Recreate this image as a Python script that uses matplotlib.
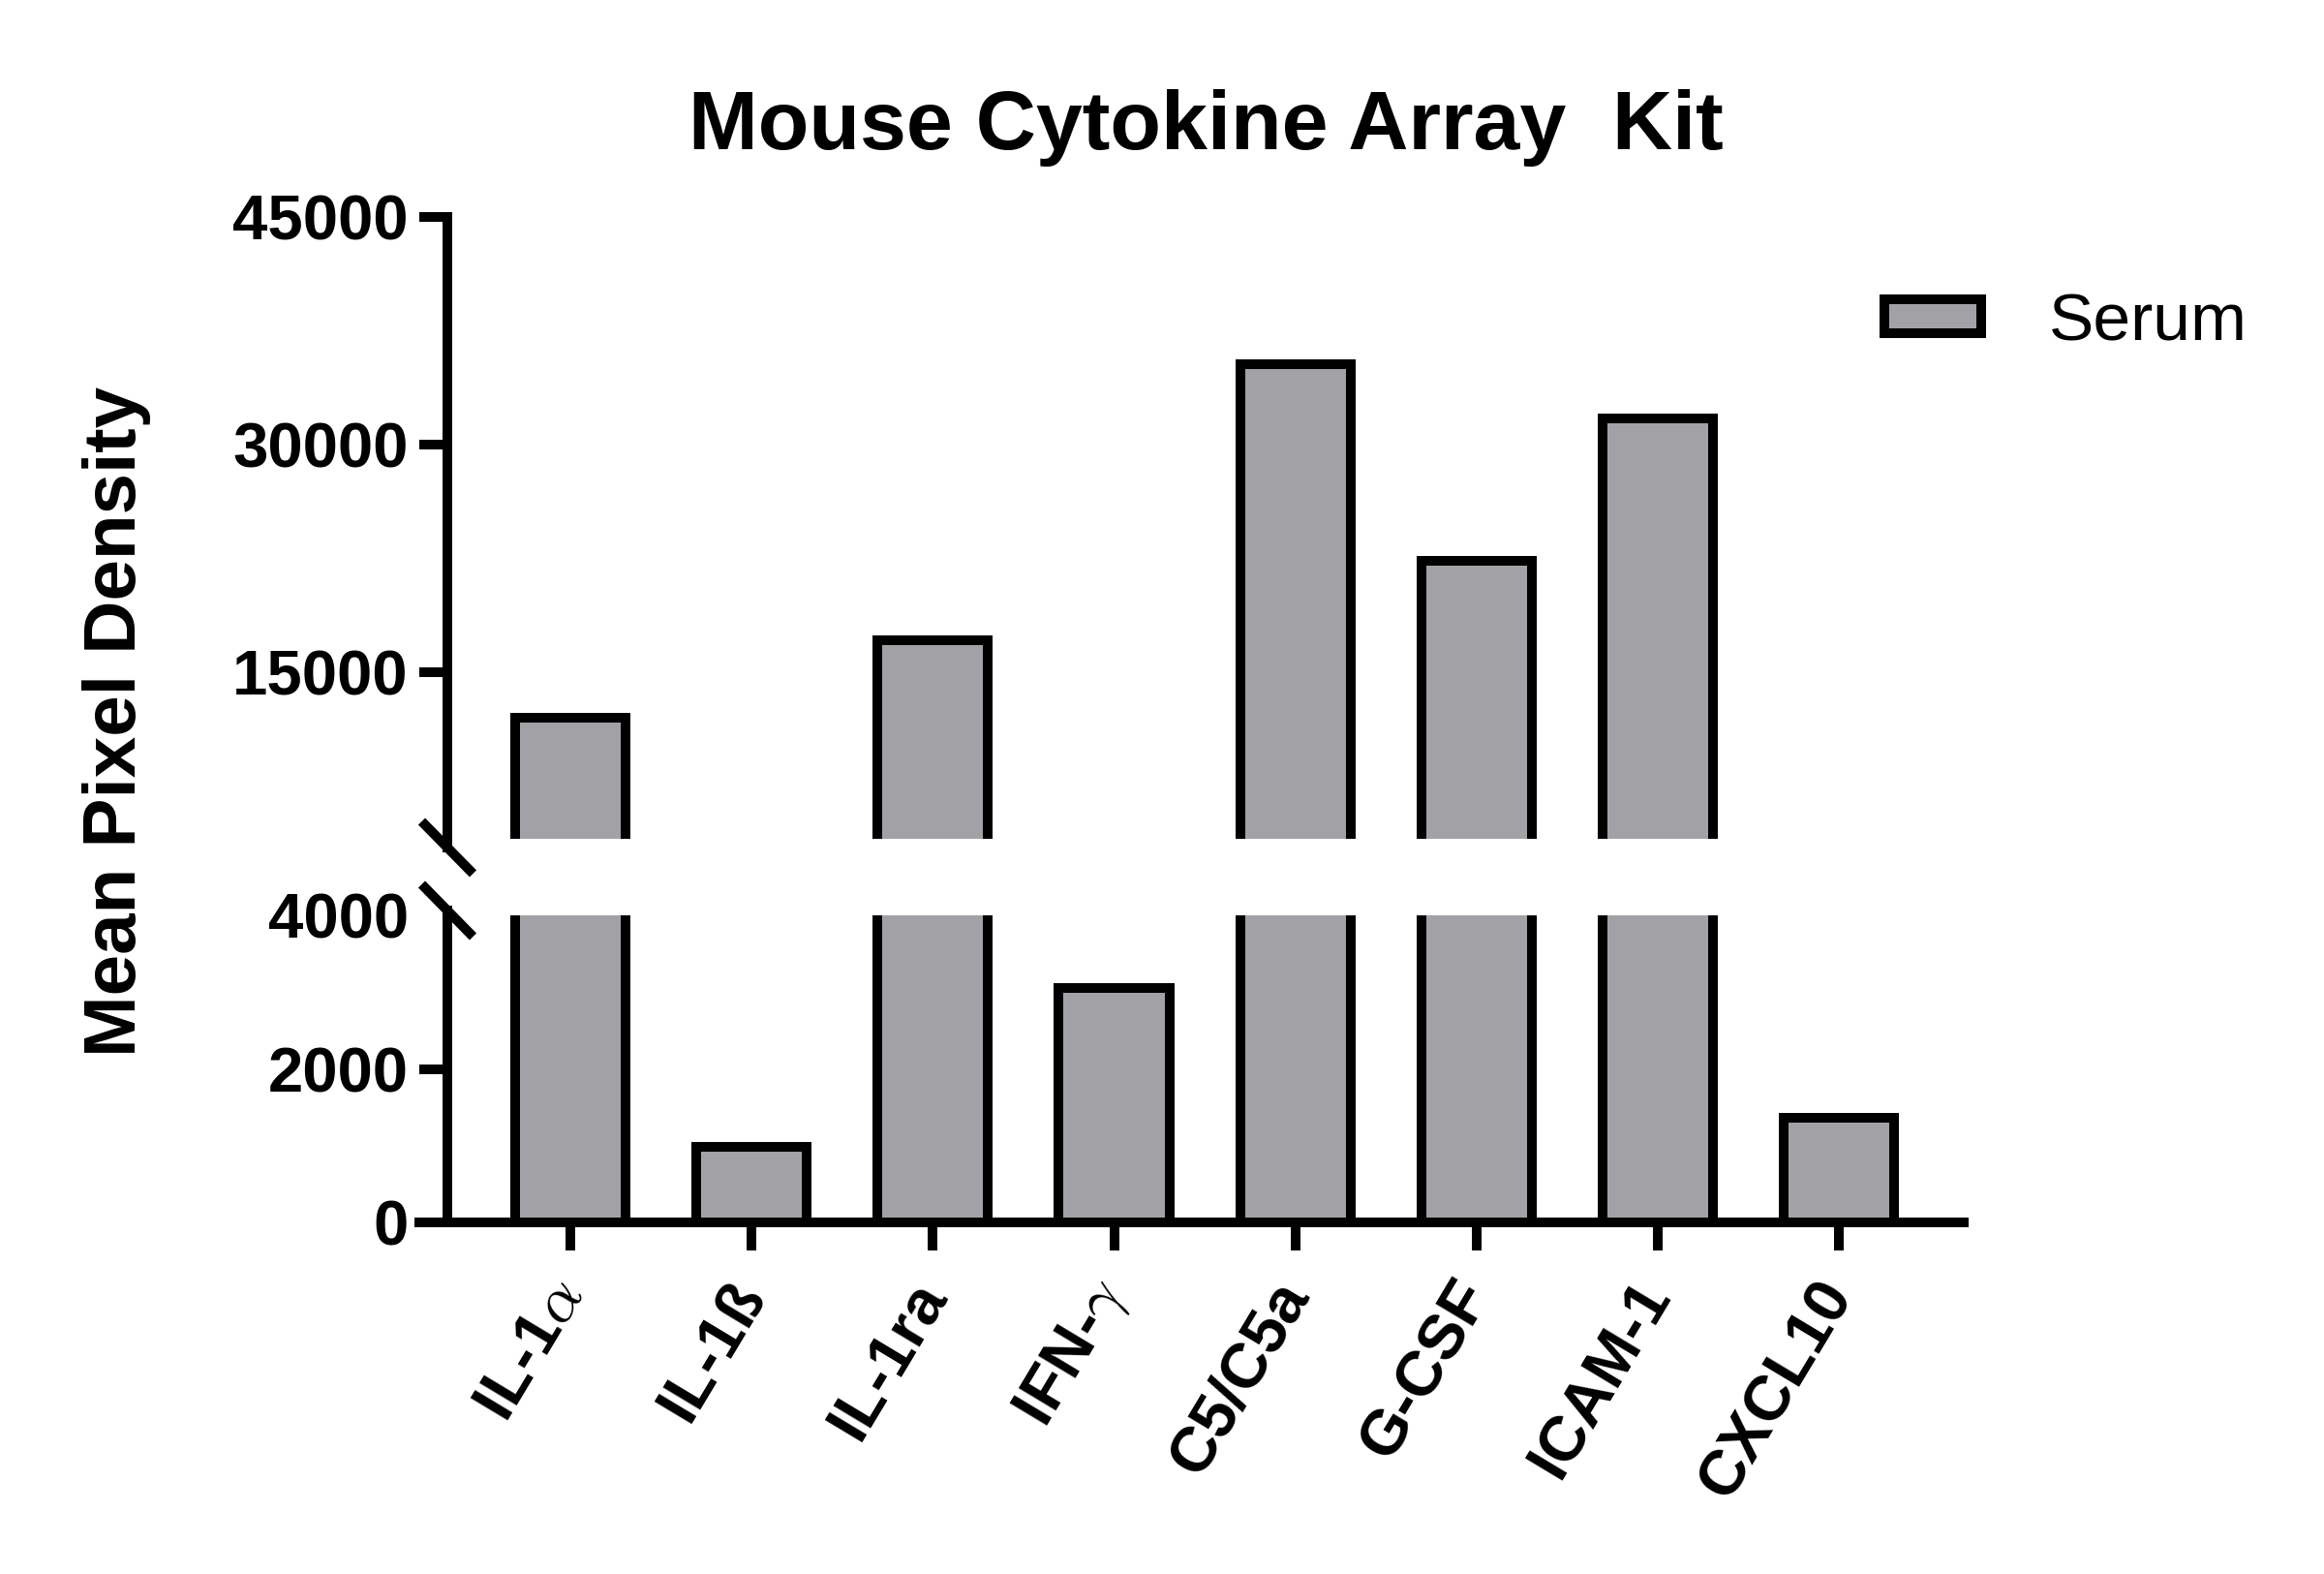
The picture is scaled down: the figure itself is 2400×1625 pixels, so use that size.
import matplotlib
matplotlib.use('Agg')
import matplotlib.pyplot as plt

plt.rcParams['font.family'] = ['Liberation Sans', 'DejaVu Sans']
plt.rcParams['mathtext.fontset'] = 'cm'

# values
categories = ['IL-1$\\alpha$', 'IL-1ß', 'IL-1ra', 'IFN-$\\gamma$', 'C5/C5a', 'G-CSF', 'ICAM-1', 'CXCL10']
serum = [12000, 980, 17100, 3050, 35300, 22300, 31700, 1360]
upper_ticks = [15000, 30000, 45000]
lower_ticks = [0, 2000, 4000]

bar_gray = '#a2a1a6'
lw = 7.2  # ~10 px at dpi 100

W, H = 2400, 1625
fig = plt.figure(figsize=(W / 100, H / 100), dpi=100)

left, right = 462 / W, 2028 / W
ax_up = fig.add_axes([left, 1 - 866 / H, right - left, (866 - 224) / H])
ax_low = fig.add_axes([left, 1 - 1262 / H, right - left, (1262 - 945) / H])

x = list(range(len(categories)))
for ax in (ax_up, ax_low):
    ax.bar(x, serum, width=0.61, color=bar_gray, edgecolor='black', linewidth=lw, label='Serum')
    ax.set_xlim(-0.68, 7.69)
    ax.spines['top'].set_visible(False)
    ax.spines['right'].set_visible(False)
    ax.spines['left'].set_linewidth(lw)
    ax.spines['bottom'].set_linewidth(lw)
    ax.tick_params(axis='both', width=lw, length=21, labelsize=47)
    ax.tick_params(axis='y', pad=8)

# upper segment
ax_up.set_ylim(4000, 45000)
ax_up.set_yticks(upper_ticks)
ax_up.set_yticklabels([str(t) for t in upper_ticks], fontweight='bold')
ax_up.spines['bottom'].set_visible(False)
ax_up.tick_params(axis='x', bottom=False, labelbottom=False)
ax_up.spines['left'].set_bounds(3425, 45000)
ax_up.spines['left'].set_capstyle('projecting')

# lower segment
ax_low.set_ylim(0, 4000)
ax_low.set_yticks(lower_ticks)
ax_low.set_yticklabels([str(t) for t in lower_ticks], fontweight='bold')
ax_low.yaxis.get_major_ticks()[-1].tick1line.set_visible(False)
ax_low.spines['left'].set_bounds(0, 4063)
ax_low.spines['bottom'].set_bounds(-0.835, 7.69)
ax_low.set_xticks(x)
ax_low.set_xticklabels(categories, rotation=59, ha='right', va='center',
                       rotation_mode='anchor', fontweight='bold', fontsize=47)
ax_low.tick_params(axis='x', pad=26)

# break marks on the y axis
dx = 26.5 / 1566
ax_up.plot([-dx, dx], [-0.014 + 0.042, -0.014 - 0.042], transform=ax_up.transAxes,
           color='black', lw=lw, clip_on=False, solid_capstyle='butt')
ax_low.plot([-dx, dx], [1.0158 + 0.0852, 1.0158 - 0.0852], transform=ax_low.transAxes,
            color='black', lw=lw, clip_on=False, solid_capstyle='butt')

fig.text(1245 / W, 1 - 154 / H, 'Mouse Cytokine Array  Kit', ha='center', va='baseline',
         fontsize=62, fontweight='bold')
fig.text(121 / W, 1 - 745 / H, 'Mean Pixel Density', rotation=90, ha='center', va='center',
         fontsize=55, fontweight='bold')

fig.legend(handles=ax_up.containers[0].patches[:1], labels=['Serum'], loc='center left',
           bbox_to_anchor=(1946 / W, 1 - 333 / H), frameon=False, fontsize=50,
           handlelength=1.44, handleheight=0.4, handletextpad=1.0, borderpad=0,
           borderaxespad=0)

fig.savefig('out.png', dpi=100, facecolor='white')
